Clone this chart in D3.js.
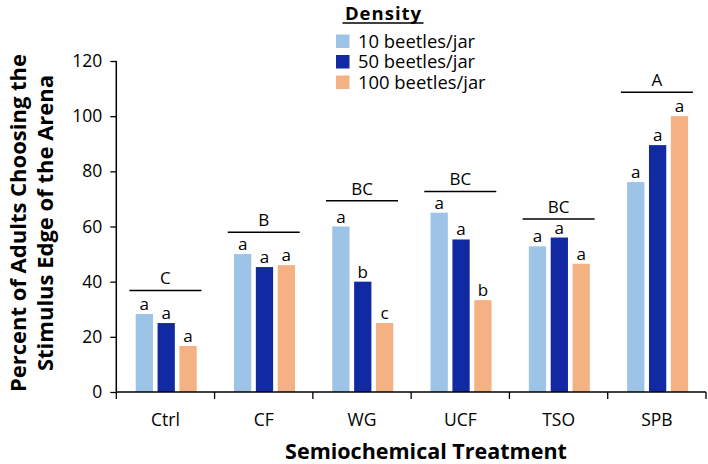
<!DOCTYPE html>
<html><head><meta charset="utf-8">
<script src="https://cdn.jsdelivr.net/npm/d3@7"></script>
<style>body{margin:0;background:#fff}svg{display:block;font-family:"Open Sans","Noto Sans",sans-serif}</style>
</head><body><svg id="c" width="708" height="464"></svg>
<script>
const categories = ["Ctrl","CF","WG","UCF","TSO","SPB"];
const seriesNames = ["10 beetles/jar","50 beetles/jar","100 beetles/jar"];
const colors = ["#9dc3e6","#1129a3","#f4b183"];
const values10  = [28.3, 50.0, 60.0, 65.0, 52.8, 76.1];
const values50  = [25.0, 45.3, 40.0, 55.3, 56.0, 89.5];
const values100 = [16.7, 46.0, 25.0, 33.3, 46.5, 100.0];
const letters10  = ["a","a","a","a","a","a"];
const letters50  = ["a","a","b","a","a","a"];
const letters100 = ["a","a","c","b","a","a"];
const groupLetters = ["C","B","BC","BC","BC","A"];
const groupLineLevel = [36.8, 57.9, 69.3, 72.7, 62.7, 108.7];
const yTicks = [0,20,40,60,80,100,120];

const seriesValues = [values10, values50, values100];
const seriesLetters = [letters10, letters50, letters100];
const FONT = "'Open Sans','Noto Sans',sans-serif";

const svg = d3.select("#c");
const x0 = d3.scaleBand().domain(categories).range([116.3, 706]).padding(0);
const x1 = d3.scaleBand().domain(d3.range(3)).range([19.4, 80.4]).paddingInner(0.21).paddingOuter(0);
const y = d3.scaleLinear().domain([0,120]).range([392, 61]);

// bars
categories.forEach((c, i) => {
  seriesValues.forEach((vals, s) => {
    const bx = x0(c) + x1(s);
    svg.append("rect").attr("x", bx).attr("y", y(vals[i]))
      .attr("width", x1.bandwidth()).attr("height", y(0) - y(vals[i]))
      .attr("fill", colors[s]);
    svg.append("text").attr("x", bx + x1.bandwidth()/2).attr("y", y(vals[i]) - 4)
      .attr("text-anchor","middle").attr("font-size",17).attr("fill","#000")
      .text(seriesLetters[s][i]);
  });
  const cx = x0(c) + x0.bandwidth()/2;
  const ly = y(groupLineLevel[i]);
  svg.append("line").attr("x1", cx - 36).attr("x2", cx + 36).attr("y1", ly).attr("y2", ly)
    .attr("stroke","#000").attr("stroke-width",1.5);
  svg.append("text").attr("x", cx).attr("y", ly - 6).attr("text-anchor","middle")
    .attr("font-size",17).text(groupLetters[i]);
});

// y axis
const ya = svg.append("g").attr("transform","translate(116.3,0)")
  .call(d3.axisLeft(y).tickValues(yTicks).tickSize(6).tickPadding(8));
ya.select(".domain").attr("stroke-width",1.5).attr("d","M0,61V392");
ya.selectAll(".tick line").attr("stroke-width",1.3);
ya.selectAll("text").attr("font-size",17.5).attr("font-family",FONT).attr("fill","#000");

// x axis
const xa = svg.append("g").attr("transform","translate(0,392)")
  .call(d3.axisBottom(x0).tickSize(0).tickPadding(22));
xa.select(".domain").attr("stroke-width",1.5).attr("d","M116.3,0H706");
xa.selectAll("text").attr("font-size",17.5).attr("font-family",FONT).attr("fill","#000");
const bounds = categories.map(c => x0(c)).concat([x0.range()[1]]);
svg.selectAll(".xt").data(bounds).enter().append("line")
  .attr("x1", d => d).attr("x2", d => d).attr("y1", 392).attr("y2", 399)
  .attr("stroke","#000").attr("stroke-width",1.3);

// axis titles
svg.append("text").attr("x", 426).attr("y", 459).attr("text-anchor","middle")
  .attr("font-size",21.5).attr("font-weight","bold").text("Semiochemical Treatment");
const yt = svg.append("text").attr("transform","translate(0,223) rotate(-90)")
  .attr("text-anchor","middle").attr("font-size",22).attr("font-weight","bold");
yt.append("tspan").attr("x",0).attr("y",26).text("Percent of Adults Choosing the");
yt.append("tspan").attr("x",0).attr("y",53).text("Stimulus Edge of the Arena");

// legend
svg.append("text").attr("x", 383.5).attr("y", 20).attr("text-anchor","middle")
  .attr("font-size",18.5).attr("letter-spacing",1).attr("font-weight","bold").text("Density");
svg.append("line").attr("x1",342.5).attr("x2",423.5).attr("y1",23).attr("y2",23)
  .attr("stroke","#000").attr("stroke-width",1.5);
seriesNames.forEach((n, s) => {
  const cy = 41 + s*20.5;
  svg.append("rect").attr("x",336).attr("y",cy-6.5).attr("width",13.5).attr("height",13.5).attr("fill",colors[s]);
  svg.append("text").attr("x",358).attr("y",cy+6.5).attr("font-size",18.4).text(n);
});
</script></body></html>
